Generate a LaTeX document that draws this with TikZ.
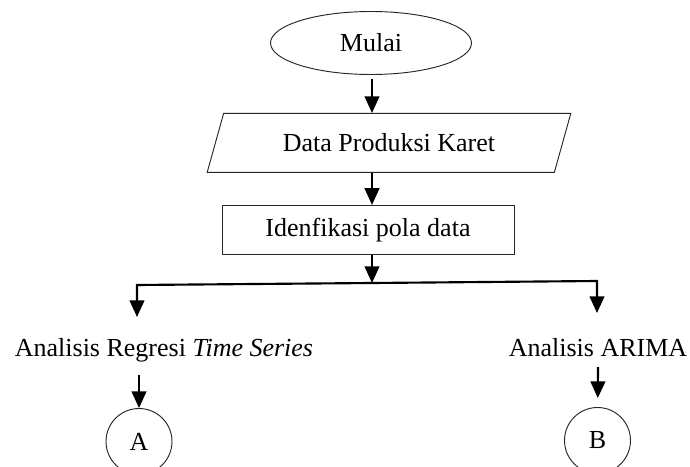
\documentclass[tikz,border=0pt]{standalone}
\usepackage{fontspec}
\setmainfont{Liberation Serif}
\usetikzlibrary{arrows.meta,positioning,shapes.geometric}

\begin{document}
\begin{tikzpicture}[
  x=0.75pt, y=-0.75pt,
  font=\fontsize{19.5}{23}\selectfont,
  box/.style={draw=black!85, line width=0.7pt, inner sep=0pt},
  term/.style={box, ellipse, minimum width=150.75pt, minimum height=47.25pt},
  io/.style={box, trapezium, trapezium left angle=60, trapezium right angle=120, trapezium stretches, minimum width=273pt, minimum height=44.25pt},
  proc/.style={box, rectangle, minimum width=219pt, minimum height=36.75pt},
  conn/.style={box, circle, minimum size=49.5pt},
  lbl/.style={inner sep=0pt, anchor=base},
  arr/.style={line width=1.6pt, -{Triangle[length=12.5pt, width=11pt]}}
]
\useasboundingbox (0,0) rectangle (690,467);
\node[term] (mulai) at (371,43) {Mulai};
\node[io, below=28.5pt of mulai, xshift=13.5pt] (data) {Data Produksi Karet};
\node[proc, below=24pt of data, xshift=-15.75pt] (pola) {Idenfikasi pola data};
\node[lbl] (regresi) at (164,356) {Analisis Regresi \textit{Time Series}};
\node[lbl] (arima) at (598,356) {Analisis ARIMA};
\node[conn] (ca) at (139,441.5) {A};
\node[conn] (cb) at (597.5,440.5) {B};
% branch points
\coordinate (split) at (372,283);
\coordinate (bl) at (137,285);
\coordinate (br) at (597,281);
\coordinate (tl) at (137,317);
\coordinate (tr) at (597,313);
\coordinate (sa) at (139,375);
\coordinate (sb) at (598,367);
\draw[arr, shorten <=3pt] (mulai.south -| split) -- (data.north -| split);
\draw[arr] (data.south -| split) -- (pola.north -| split);
\draw[arr] (pola.south -| split) -- (split);
\draw[arr] (split) -- (bl) -- (tl);
\draw[arr] (split) -- (br) -- (tr);
\draw[arr] (sa) -- (ca);
\draw[arr, shorten >=6.75pt] (sb) -- (cb);
\end{tikzpicture}
\end{document}
